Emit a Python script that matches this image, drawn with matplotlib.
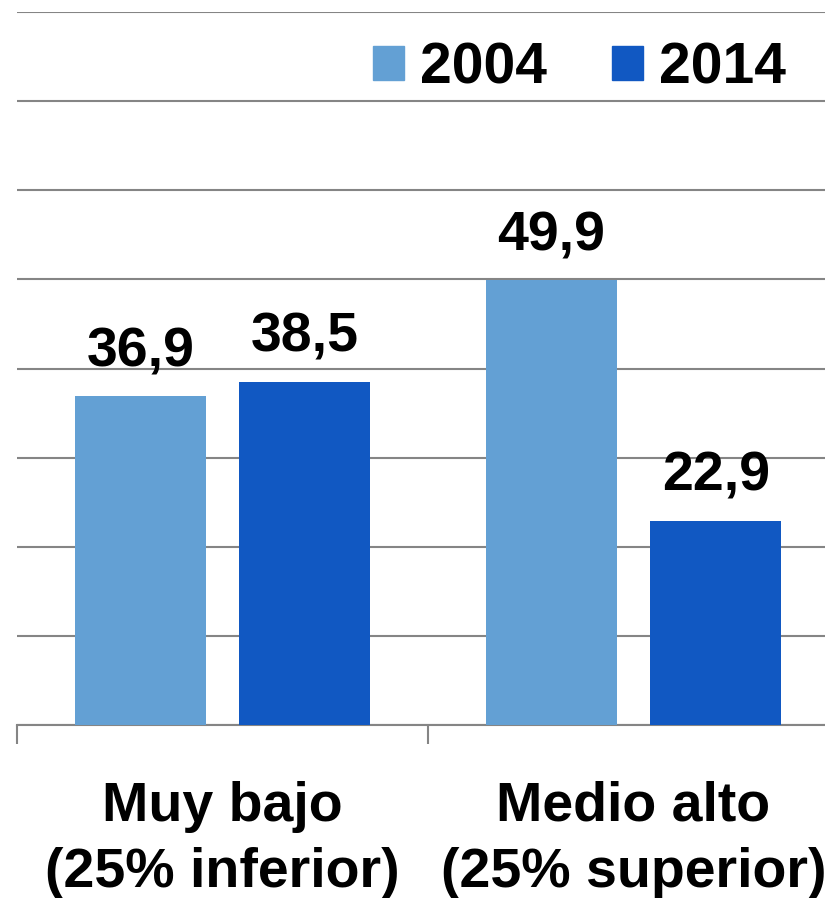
import matplotlib.pyplot as plt
from matplotlib.patches import Patch
import numpy as np

# data
categories = ["Muy bajo\n(25% inferior)", "Medio alto\n(25% superior)"]
years = ["2004", "2014"]
values_2004 = [36.9, 49.9]
values_2014 = [38.5, 22.9]

col_2004 = "#63A0D4"
col_2014 = "#1158C2"
grid_col = "#858585"

plt.rcParams['font.family'] = ['Liberation Sans', 'DejaVu Sans']

fig = plt.figure(figsize=(8.25, 8.98), dpi=100)
# the plot area runs past the right edge of the picture
ax = fig.add_axes([17 / 825, 1 - 725 / 898, 822 / 825, 713 / 898])

x = np.arange(len(categories))
w = 0.32
b1 = ax.bar(x - 0.2, values_2004, w, color=col_2004, zorder=3)
b2 = ax.bar(x + 0.2, values_2014, w, color=col_2014, zorder=3)

# labels with decimal comma
for bars in (b1, b2):
    ax.bar_label(bars, labels=[f"{v:.1f}".replace(".", ",") for v in bars.datavalues],
                 padding=13, fontsize=40, fontweight="bold")

ax.set_ylim(0, 80)
ax.set_xlim(-0.5, 1.5)
ax.set_yticks(np.arange(0, 81, 10))
ax.yaxis.grid(True, color=grid_col, linewidth=1.5)
ax.set_axisbelow(True)
ax.tick_params(axis="y", left=False, labelleft=False)

ax.set_xticks(x)
ax.set_xticklabels(categories, fontsize=40, fontweight="bold", linespacing=1.36)
ax.tick_params(axis="x", which="major", length=0, pad=40)
ax.set_xticks([-0.5, 0.5, 1.5], minor=True)
ax.tick_params(axis="x", which="minor", length=14, width=1.5, color=grid_col)

for s in ["top", "right", "left"]:
    ax.spines[s].set_visible(False)
ax.spines["bottom"].set_color(grid_col)
ax.spines["bottom"].set_linewidth(1.5)

handles = [Patch(color=col_2004), Patch(color=col_2014)]
fig.legend(handles, years, loc="center left", bbox_to_anchor=(373 / 825, 1 - 68 / 898),
           ncol=2, frameon=False, borderpad=0, borderaxespad=0,
           handlelength=0.55, handleheight=0.55, handletextpad=0.27, columnspacing=1.15,
           prop={"size": 41, "weight": "bold"})

fig.savefig("out.png", dpi=100)
